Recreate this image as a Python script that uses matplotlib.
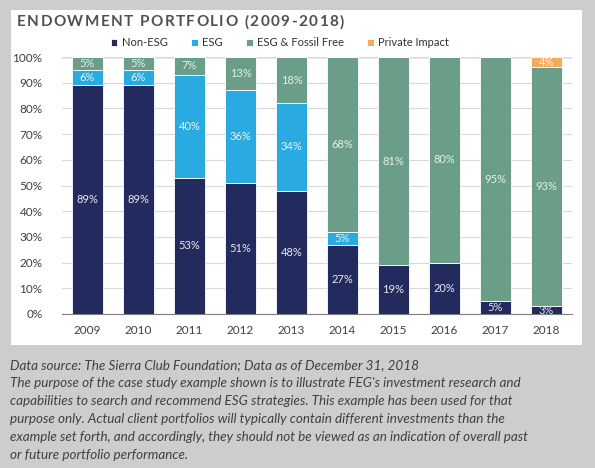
import numpy as np
import matplotlib.pyplot as plt
from matplotlib.patches import Rectangle

plt.rcParams["font.family"] = ["Lato", "DejaVu Sans"]

years = ["2009", "2010", "2011", "2012", "2013", "2014", "2015", "2016", "2017", "2018"]
non_esg = [89, 89, 53, 51, 48, 27, 19, 20, 5, 3]
esg = [6, 6, 40, 36, 34, 5, 0, 0, 0, 0]
fossil_free = [5, 5, 7, 13, 18, 68, 81, 80, 95, 93]
private_impact = [0, 0, 0, 0, 0, 0, 0, 0, 0, 4]

series = ["Non-ESG", "ESG", "ESG & Fossil Free", "Private Impact"]
colors = ["#222a5e", "#29aae1", "#6b9e88", "#f3aa5f"]
label_colors = ["#e8e8f0", "#eaf4fa", "#e6efe9", "#fff4e6"]

W, H = 595, 468
fig = plt.figure(figsize=(W / 100, H / 100), dpi=100, facecolor="#cdcdcd")
fig.patches.append(Rectangle((11 / W, 1 - 345 / H), (582 - 11) / W, (345 - 10) / H,
                             transform=fig.transFigure, facecolor="white", edgecolor="none", zorder=-10))

ax = fig.add_axes([62 / W, 1 - 314 / H, (572 - 62) / W, (314 - 57) / H])
ax.set_facecolor("none")

x = np.arange(len(years))
bottom = np.zeros(len(years))
for vals, name, c, lc in zip([non_esg, esg, fossil_free, private_impact], series, colors, label_colors):
    vals = np.array(vals, dtype=float)
    ax.bar(x, vals, 0.6, bottom=bottom, color=c, label=name, zorder=3,
           edgecolor="white", linewidth=0.6)
    for xi, v, b in zip(x, vals, bottom):
        if v > 0:
            ax.text(xi, b + v / 2, f"{int(v)}%", ha="center", va="center",
                    fontsize=8, color=lc, zorder=4)
    bottom += vals

ax.set_xlim(-0.5, len(years) - 0.5)
ax.set_ylim(0, 100)
ax.set_yticks(range(0, 101, 10))
ax.set_yticklabels([f"{v}%" for v in range(0, 101, 10)])
ax.set_xticks(x)
ax.set_xticklabels(years)
ax.tick_params(axis="both", length=0, labelsize=8.5, colors="#404040")
ax.tick_params(axis="y", pad=14)
ax.tick_params(axis="x", pad=8)
ax.grid(axis="y", color="#d9d9d9", linewidth=0.8, zorder=0)
for s in ["left", "right", "top"]:
    ax.spines[s].set_visible(False)
ax.spines["bottom"].set_color("#7f7f7f")
ax.axhline(100, color="#8c8c8c", linewidth=1.0, zorder=1)

# title with letter spacing, drawn char by char
title = "ENDOWMENT PORTFOLIO (2009-2018)"
renderer = fig.canvas.get_renderer()
xpos = 17
for ch in title:
    t = fig.text(xpos / W, 1 - 22 / H, ch, fontsize=11, fontweight="bold",
                 color="#505050", va="center", ha="left")
    w = t.get_window_extent(renderer).width if ch != " " else 4
    xpos += w + 1.4

fig.legend(loc="center", bbox_to_anchor=(280 / W, 1 - 43 / H), ncol=4, frameon=False,
           fontsize=8, handlelength=0.6, handleheight=0.6, handletextpad=0.4,
           columnspacing=2.1, labelcolor="#303030")

notes = ["Data source: The Sierra Club Foundation; Data as of December 31, 2018",
         "The purpose of the case study example shown is to illustrate FEG's investment research and",
         "capabilities to search and recommend ESG strategies. This example has been used for that",
         "purpose only. Actual client portfolios will typically contain different investments than the",
         "example set forth, and accordingly, they should not be viewed as an indication of overall past",
         "or future portfolio performance."]
for i, line in enumerate(notes):
    fig.text(10 / W, 1 - (365 + i * 18) / H, line, fontsize=9.7, style="italic",
             color="#404040", va="center", ha="left")

fig.savefig("out.png", dpi=100, facecolor=fig.get_facecolor())
